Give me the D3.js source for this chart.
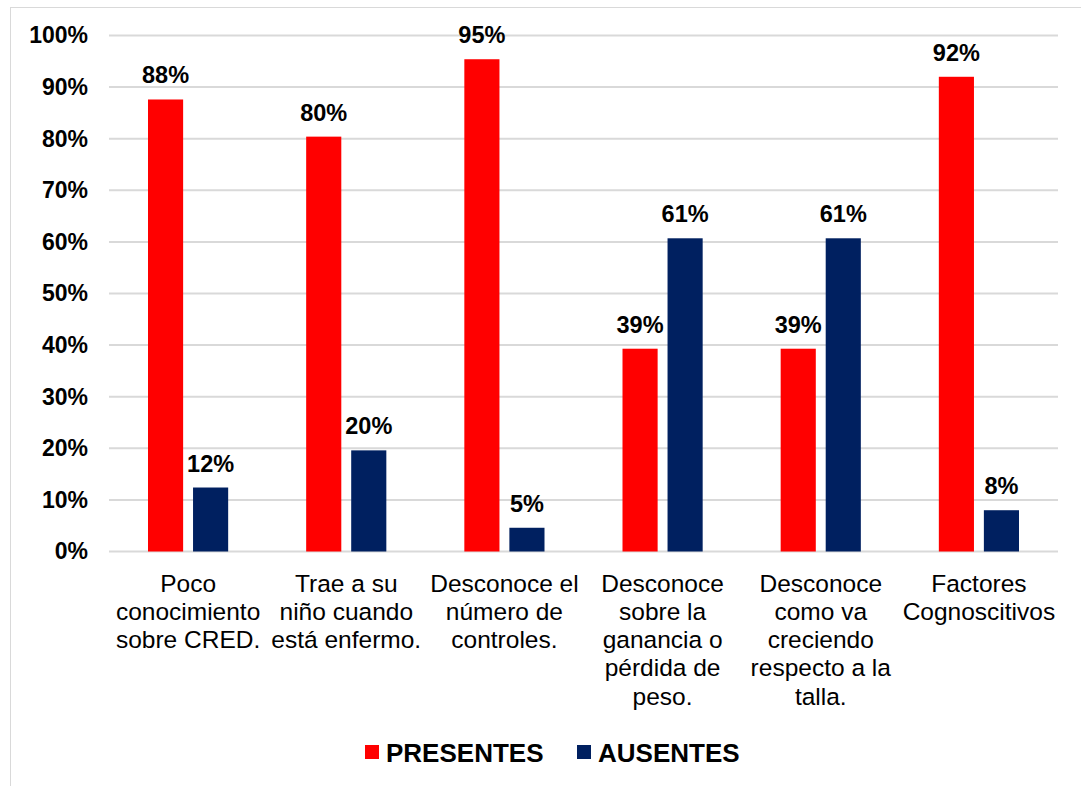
<!DOCTYPE html>
<html>
<head>
<meta charset="utf-8">
<script src="https://cdn.jsdelivr.net/npm/d3@7"></script>
<style>
  body { margin: 0; background: #fff; }
  svg { font-family: "Liberation Sans", Arial, sans-serif; }
</style>
</head>
<body>
<svg id="chart" width="1081" height="786"></svg>
<script>
// chart data
const categories = [
  ['Poco', 'conocimiento', 'sobre CRED.'],
  ['Trae a su', 'niño cuando', 'está enfermo.'],
  ['Desconoce el', 'número de', 'controles.'],
  ['Desconoce', 'sobre la', 'ganancia o', 'pérdida de', 'peso.'],
  ['Desconoce', 'como va', 'creciendo', 'respecto a la', 'talla.'],
  ['Factores', 'Cognoscitivos']
];
const presentes = [0.876, 0.804, 0.954, 0.393, 0.393, 0.92];
const ausentes = [0.124, 0.196, 0.046, 0.607, 0.607, 0.08];
const seriesNames = ['PRESENTES', 'AUSENTES'];
const seriesColors = ['#ff0000', '#002060'];
const yTicks = [0, 0.1, 0.2, 0.3, 0.4, 0.5, 0.6, 0.7, 0.8, 0.9, 1];

const svg = d3.select('#chart');
const margin = { top: 35.5, left: 109, right: 23, bottom: 234.5 };
const width = 1081 - margin.left - margin.right;
const height = 786 - margin.top - margin.bottom;

// outer frame
svg.append('rect')
  .attr('x', 10.5).attr('y', 7.5)
  .attr('width', 1100).attr('height', 800)
  .attr('fill', 'none').attr('stroke', '#d9d9d9');

const g = svg.append('g')
  .attr('transform', 'translate(' + margin.left + ',' + margin.top + ')');

const x0 = d3.scaleBand().domain(d3.range(categories.length)).range([0, width]);
const x1 = d3.scaleBand().domain([0, 1]).range([39, x0.bandwidth() - 39]).paddingInner(0.22);
const y = d3.scaleLinear().domain([0, 1]).range([height, 0]);

// grid
g.append('g')
  .selectAll('line')
  .data(yTicks)
  .enter().append('line')
  .attr('x1', 0).attr('x2', width)
  .attr('y1', d => y(d)).attr('y2', d => y(d))
  .attr('stroke', '#d9d9d9').attr('stroke-width', 2);

// y axis
const yAxis = g.append('g')
  .call(d3.axisLeft(y).tickValues(yTicks).tickFormat(d3.format('.0%')).tickSize(0).tickPadding(21));
yAxis.select('.domain').remove();
yAxis.selectAll('text')
  .attr('font-size', 23).attr('font-weight', 'bold').attr('fill', '#000')
  .attr('font-family', '"Liberation Sans", Arial, sans-serif');

// bars
const groups = g.selectAll('.cat')
  .data(categories.map((c, i) => [presentes[i], ausentes[i]]))
  .enter().append('g')
  .attr('class', 'cat')
  .attr('transform', (d, i) => 'translate(' + x0(i) + ',0)');

groups.selectAll('rect')
  .data(d => d)
  .enter().append('rect')
  .attr('x', (d, j) => x1(j))
  .attr('y', d => y(d))
  .attr('width', x1.bandwidth())
  .attr('height', d => y(0) - y(d))
  .attr('fill', (d, j) => seriesColors[j]);

groups.selectAll('text.val')
  .data(d => d)
  .enter().append('text')
  .attr('class', 'val')
  .attr('x', (d, j) => x1(j) + x1.bandwidth() / 2)
  .attr('y', d => y(d) - 16)
  .attr('text-anchor', 'middle')
  .attr('font-size', 23.5).attr('font-weight', 'bold')
  .text(d => d3.format('.0%')(d));

// category labels
const catLabels = g.selectAll('.catlabel')
  .data(categories)
  .enter().append('text')
  .attr('class', 'catlabel')
  .attr('text-anchor', 'middle')
  .attr('font-size', 24.5)
  .attr('transform', (d, i) => 'translate(' + (x0(i) + x0.bandwidth() / 2) + ',' + (height + 40) + ')');
catLabels.selectAll('tspan')
  .data(d => d)
  .enter().append('tspan')
  .attr('x', 0)
  .attr('y', (d, k) => k * 28.3)
  .text(d => d);

// legend
const legendX = [365, 577];
const legend = svg.append('g');
seriesNames.forEach((name, i) => {
  legend.append('rect')
    .attr('x', legendX[i]).attr('y', 745)
    .attr('width', 14).attr('height', 14)
    .attr('fill', seriesColors[i]);
  legend.append('text')
    .attr('x', legendX[i] + 21).attr('y', 761.5)
    .attr('font-size', 26).attr('font-weight', 'bold')
    .text(name);
});
</script>
</body>
</html>
